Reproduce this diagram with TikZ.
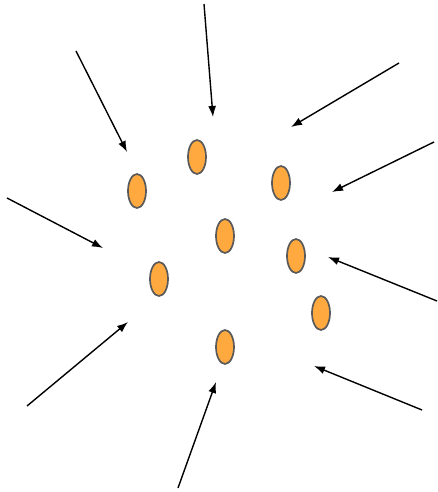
\documentclass[tikz,border=0pt]{standalone}
\usetikzlibrary{shapes.geometric, arrows.meta}
\definecolor{dotfill}{HTML}{FFA93F}
\definecolor{dotline}{HTML}{5A5A5A}

\begin{document}
\begin{tikzpicture}[
    x=1pt, y=-1pt,
    particle/.style={ellipse, draw=dotline, fill=dotfill, line width=1.7pt, minimum width=18pt, minimum height=34pt, inner sep=0pt},
    arrow/.style={-{Latex[length=11pt, width=8pt]}, line width=1.4pt, draw=black}
]
    \useasboundingbox (0,0) rectangle (438,492);

    % Particles
    \node (p1) [particle] at (197,157) {};
    \node (p2) [particle] at (137,191) {};
    \node (p3) [particle] at (281,183) {};
    \node (p4) [particle] at (225,236) {};
    \node (p5) [particle] at (296,256) {};
    \node (p6) [particle] at (159,279) {};
    \node (p7) [particle] at (321,313) {};
    \node (p8) [particle] at (225,347) {};

    % Arrow ends
    \coordinate (a1) at (204,4);   \coordinate (b1) at (213,117);
    \coordinate (a2) at (76,51);   \coordinate (b2) at (127,152);
    \coordinate (a3) at (399,63);  \coordinate (b3) at (291,127);
    \coordinate (a4) at (434,142); \coordinate (b4) at (332,192);
    \coordinate (a5) at (7,198);   \coordinate (b5) at (103,248);
    \coordinate (a6) at (437,301); \coordinate (b6) at (328,257);
    \coordinate (a7) at (27,406);  \coordinate (b7) at (128,322);
    \coordinate (a8) at (422,410); \coordinate (b8) at (314,366);
    \coordinate (a9) at (178,488); \coordinate (b9) at (216,382);

    % Arrows
    \draw [arrow] (a1) -- (b1);
    \draw [arrow] (a2) -- (b2);
    \draw [arrow] (a3) -- (b3);
    \draw [arrow] (a4) -- (b4);
    \draw [arrow] (a5) -- (b5);
    \draw [arrow] (a6) -- (b6);
    \draw [arrow] (a7) -- (b7);
    \draw [arrow] (a8) -- (b8);
    \draw [arrow] (a9) -- (b9);
\end{tikzpicture}
\end{document}
